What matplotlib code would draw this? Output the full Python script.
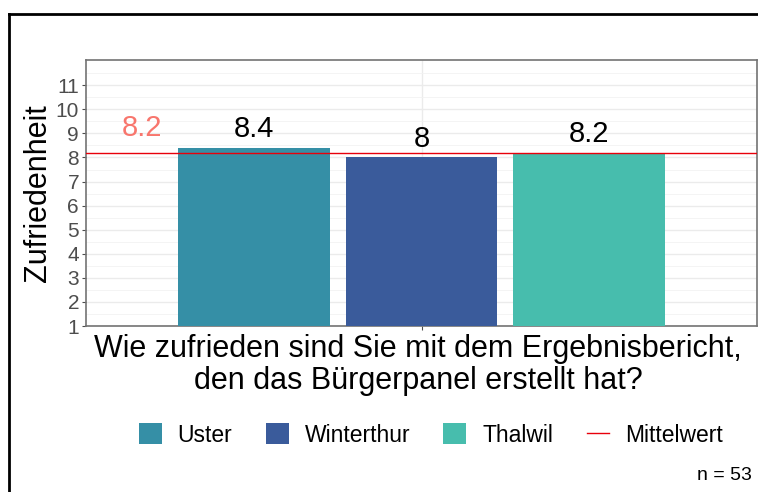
import matplotlib.pyplot as plt
from matplotlib.lines import Line2D
from matplotlib.patches import Patch

# ---------------- data ----------------
regions = ["Uster", "Winterthur", "Thalwil"]
scores = [8.4, 8.0, 8.2]
score_labels = ["8.4", "8", "8.2"]
mean_score = 8.2
mean_label = "8.2"
colors = ["#358fa6", "#3a5b9b", "#47bdad"]
y_ticks = list(range(1, 12))
n_total = 53

plt.rcParams["font.family"] = ["Liberation Sans", "DejaVu Sans"]

fig = plt.figure(figsize=(7.58, 4.92), dpi=100)
ax = fig.add_axes([86 / 758, 1 - 326 / 492, 671 / 758, 266 / 492])

x_pos = [-1, 0, 1]
ax.bar(x_pos, [s - 1 for s in scores], bottom=1, width=0.905, color=colors, zorder=3)

for x, s, lab in zip(x_pos, scores, score_labels):
    ax.text(x, s + 0.2, lab, ha="center", va="bottom", fontsize=21, color="black", zorder=5)

ax.axhline(mean_score, color="#e8000b", lw=1.0, zorder=4)
ax.text(-1.667, mean_score + 0.45, mean_label, ha="center", va="bottom", fontsize=21,
        color="#f8766d", zorder=5)

ax.set_xlim(-2.0, 2.0)
ax.set_ylim(1, 12.05)
ax.set_yticks(y_ticks)
ax.set_yticks([y + 0.5 for y in range(1, 12)], minor=True)
ax.set_xticks([0])
ax.set_xticklabels([""])
ax.tick_params(axis="y", labelsize=15, labelcolor="#4d4d4d", color="#4d4d4d", length=3, pad=2)
ax.tick_params(axis="y", which="minor", length=0)
ax.tick_params(axis="x", color="#4d4d4d", length=3)

ax.grid(True, which="major", color="#ebebeb", lw=1.0, zorder=0)
ax.grid(True, which="minor", axis="y", color="#f2f2f2", lw=0.6, zorder=0)
ax.set_axisbelow(True)
for sp in ax.spines.values():
    sp.set_color("#737373")
    sp.set_linewidth(1.2)

ax.set_ylabel("Zufriedenheit", fontsize=22, labelpad=2)
fig.text(418 / 758, 1 - 365 / 492,
         "Wie zufrieden sind Sie mit dem Ergebnisbericht,\nden das Bürgerpanel erstellt hat?",
         ha="center", va="center", fontsize=22, linespacing=1.08)

handles = [Patch(facecolor=c, edgecolor="none") for c in colors]
handles.append(Line2D([0], [0], color="#e8000b", lw=1.0))
leg = fig.legend(handles, regions + ["Mittelwert"], loc="center", ncol=4,
                 bbox_to_anchor=(431 / 758, 1 - 435 / 492), frameon=False, fontsize=16.5,
                 handlelength=1.0, handleheight=1.0, columnspacing=1.45, handletextpad=0.7)

fig.text(752 / 758, 1 - 476 / 492, f"n = {n_total}", ha="right", va="center", fontsize=14)

# black frame of the original figure (only left and top visible)
fig.add_artist(Line2D([9 / 758, 9 / 758], [0, 1 - 14 / 492], color="black", lw=2,
                      transform=fig.transFigure))
fig.add_artist(Line2D([9 / 758, 1], [1 - 14 / 492, 1 - 14 / 492], color="black", lw=2,
                      transform=fig.transFigure))

fig.savefig("out.png", dpi=100)
